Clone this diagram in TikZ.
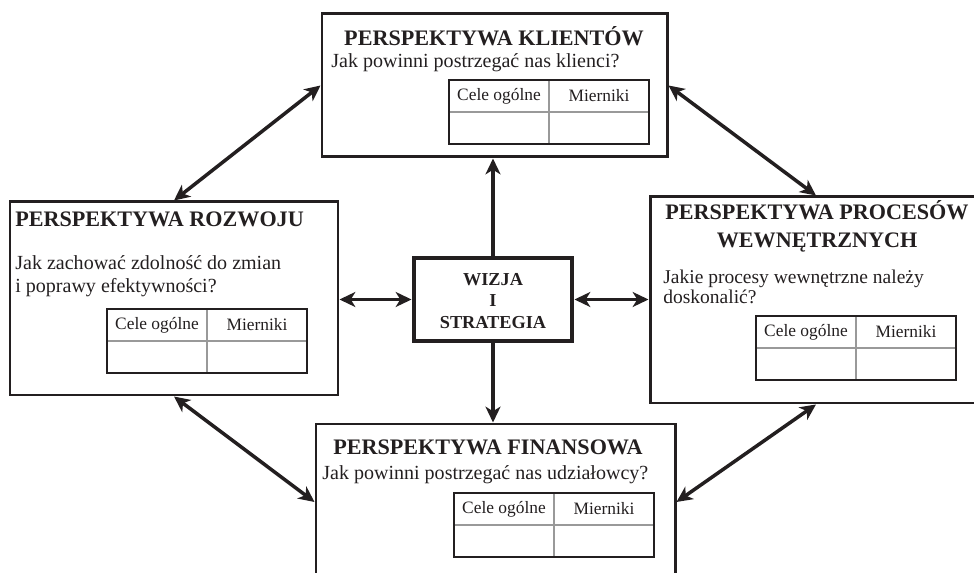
\documentclass[tikz,border=0pt]{standalone}
\usepackage{fontspec}
\setmainfont{Liberation Serif}
\usetikzlibrary{arrows.meta,fit}
\definecolor{druk}{HTML}{231F20}
\begin{document}
\begin{tikzpicture}[x=0.02cm, y=-0.02cm, line join=miter, >={Stealth[length=9pt,width=8.5pt,inset=2.6pt]},
	pbox/.style={draw=druk, line width=1.7pt, inner sep=0pt},
	wbox/.style={draw=druk, line width=2.8pt, inner sep=0pt},
	tytul/.style={font=\fontsize{12.6}{16}\selectfont\bfseries, text=druk, inner sep=0pt, align=center},
	pytanie/.style={font=\fontsize{11.4}{13}\selectfont, text=druk, inner sep=0pt, align=left, anchor=west},
	komorka/.style={font=\fontsize{9.9}{12}\selectfont, text=druk, inner sep=0pt},
	strz/.style={line width=2pt, draw=druk}]
	\useasboundingbox (0,0) rectangle (974,573);
	\def\tabela#1#2#3{%
		\draw[black!40, line width=0.8pt] (#2,#3+32)--++(200,0) (#2+100,#3)--++(0,64);
		\draw[druk, line width=0.8pt] (#2,#3) rectangle ++(200,64);
		\node[komorka] (#1-cele) at (#2+50,#3+16) {Cele ogólne};
		\node[komorka] (#1-miern) at (#2+150,#3+16) {Mierniki};}
	% ramki
	\node[pbox, fit={(322,14) (667,157)}] (klienci) {};
	\node[pbox, fit={(10,202) (338,395)}] (rozwoj) {};
	\node[pbox, fit={(650,197) (982,403)}] (procesy) {};
	\node[pbox, fit={(316,424) (675,580)}] (finanse) {};
	\node[wbox, fit={(414,258) (572,341)}] (wizja) {};
	\node[tytul, font=\fontsize{10.4}{12}\selectfont\bfseries] (wizja-t) at (493,301) {WIZJA\\I\\STRATEGIA};
	% klienci
	\node[tytul] (klienci-t) at (494,36) {PERSPEKTYWA KLIENTÓW};
	\node[pytanie] (klienci-p) at (331,63) {Jak powinni postrzegać nas klienci?};
	\tabela{klienci}{449}{80}
	% rozwoj
	\node[tytul, anchor=west] (rozwoj-t) at (15,219) {PERSPEKTYWA ROZWOJU};
	\node[pytanie] (rozwoj-p) at (15,276) {Jak zachować zdolność do zmian\\i poprawy efektywności?};
	\tabela{rozwoj}{107}{309}
	% procesy
	\node[tytul] (procesy-t) at (817,226) {PERSPEKTYWA PROCESÓW\\WEWNĘTRZNYCH};
	\node[pytanie, font=\fontsize{11.1}{11.5}\selectfont] (procesy-p) at (663,287) {Jakie procesy wewnętrzne należy\\doskonalić?};
	\tabela{procesy}{756}{316}
	% finanse
	\node[tytul] (finanse-t) at (488,447) {PERSPEKTYWA FINANSOWA};
	\node[pytanie] (finanse-p) at (322,475) {Jak powinni postrzegać nas udziałowcy?};
	\tabela{finanse}{454}{493}
	% strzalki
	\draw[strz,<->] (rozwoj.north) -- (klienci.west);
	\draw[strz,<->] (klienci.east) -- (procesy.north);
	\draw[strz,<->] (rozwoj.south) -- (finanse.west);
	\draw[strz,<->] (procesy.south) -- (finanse.east);
	\draw[strz,<->] (rozwoj.east |- wizja.west) -- (wizja.west);
	\draw[strz,<->] (wizja.east) -- (procesy.west |- wizja.east);
	\draw[strz,->] (wizja.north) -- (klienci.south -| wizja.north);
	\draw[strz,->] (wizja.south) -- (finanse.north -| wizja.south);
\end{tikzpicture}
\end{document}
